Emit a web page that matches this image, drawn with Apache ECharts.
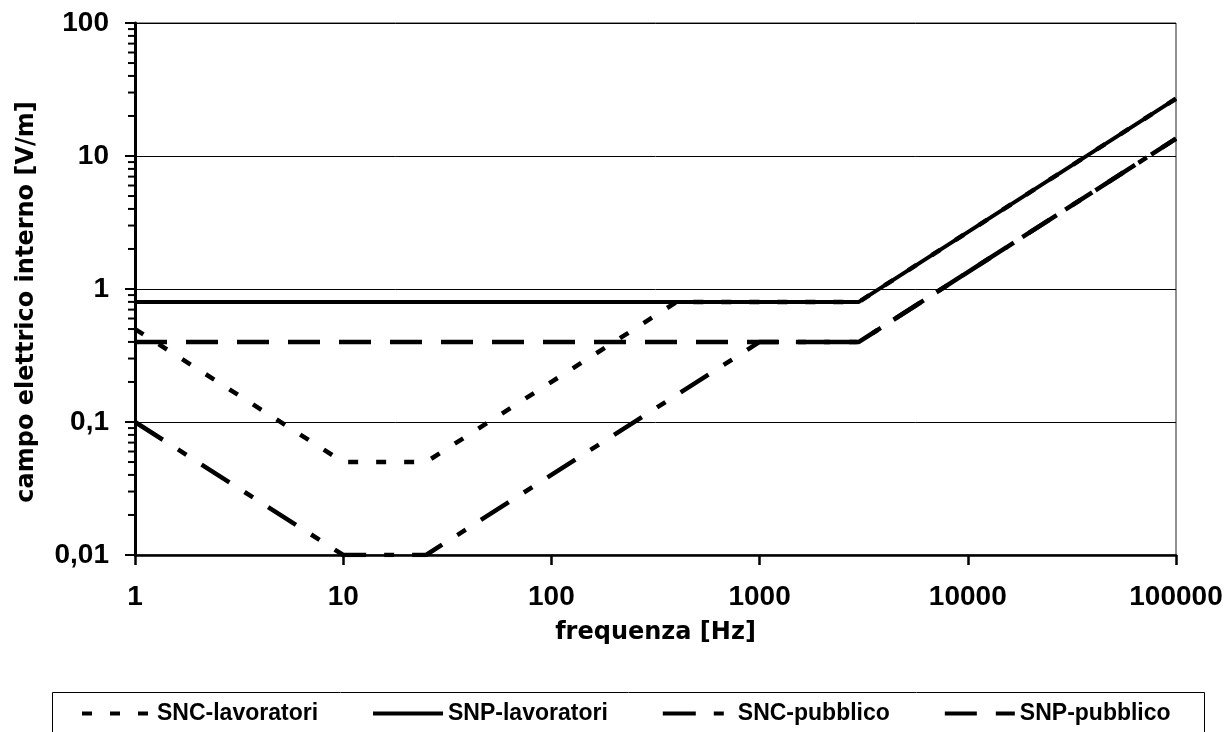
<!DOCTYPE html>
<html>
<head>
<meta charset="utf-8">
<script src="https://cdn.jsdelivr.net/npm/echarts@6/dist/echarts.min.js"></script>
<style>
  html, body { margin: 0; padding: 0; background: #fff; }
  #chart { width: 1228px; height: 732px; }
</style>
</head>
<body>
<div id="chart"></div>
<script>
// data (frequency in Hz, internal electric field in V/m)
var seriesNames = ['SNC-lavoratori', 'SNP-lavoratori', 'SNC-pubblico', 'SNP-pubblico'];

var freqSncLav = [1, 10, 25, 400, 3000, 100000];
var valSncLav  = [0.5, 0.05, 0.05, 0.8, 0.8, 27];

var freqSnpLav = [1, 3000, 100000];
var valSnpLav  = [0.8, 0.8, 27];

var freqSncPub = [1, 10, 25, 1000, 3000, 100000];
var valSncPub  = [0.1, 0.01, 0.01, 0.4, 0.4, 13.5];

var freqSnpPub = [1, 3000, 100000];
var valSnpPub  = [0.4, 0.4, 13.5];

// minor ticks on the log y axis (2..9 inside each decade)
var minorSteps = [2, 3, 4, 5, 6, 7, 8, 9];
var decades = [0.01, 0.1, 1, 10];

function pairs(xs, ys) {
  return xs.map(function (x, i) { return [x, ys[i]]; });
}

var minorTicks = [];
decades.forEach(function (d) {
  minorSteps.forEach(function (s) { minorTicks.push([1, +(d * s).toPrecision(3)]); });
});

var myChart = echarts.init(document.getElementById('chart'));

var labelFont = 'Arial, "Liberation Sans", sans-serif';
var titleFont = '"DejaVu Sans", Arial, sans-serif';

var option = {
  animation: false,
  backgroundColor: '#fff',
  grid: {
    left: 135,
    right: 52,
    top: 23,
    bottom: 177,
    show: true,
    borderColor: '#222',
    borderWidth: 1,
    containLabel: false,
    outerBoundsMode: 'none'
  },
  legend: {
    data: seriesNames,
    left: 80,
    top: 702,
    padding: 0,
    itemWidth: 70,
    itemHeight: 14,
    itemGap: 53,
    // hide the circle ECharts puts in the middle of line icons
    itemStyle: { color: 'rgba(0,0,0,0)', borderColor: 'rgba(0,0,0,0)', borderWidth: 0 },
    lineStyle: { width: 4 },
    textStyle: { fontFamily: labelFont, fontWeight: 'bold', fontSize: 23, color: '#000' }
  },
  graphic: [
    {
      type: 'rect',
      left: 50,
      top: 690,
      shape: { width: 1152, height: 60 },
      style: { fill: 'none', stroke: '#000', lineWidth: 1 },
      z: -1
    }
  ],
  xAxis: {
    type: 'log',
    logBase: 10,
    min: 1,
    max: 100000,
    name: 'frequenza [Hz]',
    nameLocation: 'middle',
    nameGap: 66,
    nameTextStyle: { fontFamily: titleFont, fontWeight: 'bold', fontSize: 24, color: '#000' },
    axisLine: { lineStyle: { color: '#000', width: 2.5 } },
    axisTick: { show: true, inside: false, length: 10, lineStyle: { color: '#000', width: 2.5 } },
    axisLabel: {
      margin: 28,
      fontFamily: labelFont,
      fontWeight: 'bold',
      fontSize: 28,
      color: '#000',
      showMaxLabel: true,
      showMinLabel: true,
      formatter: function (v) { return String(v); }
    },
    splitLine: { show: false },
    minorTick: { show: false }
  },
  yAxis: {
    type: 'log',
    logBase: 10,
    min: 0.01,
    max: 100,
    name: 'campo elettrico interno [V/m]',
    nameLocation: 'middle',
    nameGap: 96,
    nameTextStyle: {
      fontFamily: titleFont, fontWeight: 'bold', fontSize: 24, color: '#000',
      padding: [0, 26, 0, 0]
    },
    axisLine: { lineStyle: { color: '#000', width: 3 } },
    axisTick: { show: true, inside: false, length: 10, lineStyle: { color: '#000', width: 2 } },
    axisLabel: {
      margin: 26,
      fontFamily: labelFont,
      fontWeight: 'bold',
      fontSize: 28,
      color: '#000',
      formatter: function (v) { return String(v).replace('.', ','); }
    },
    splitLine: { show: true, lineStyle: { color: '#000', width: 1 } }
  },
  series: [
    {
      name: 'SNC-lavoratori',
      type: 'line',
      symbol: 'none',
      data: pairs(freqSncLav, valSncLav),
      lineStyle: { color: '#000', width: 4.5, type: [10, 18] },
      itemStyle: { color: '#000' },
      z: 3
    },
    {
      name: 'SNP-lavoratori',
      type: 'line',
      symbol: 'none',
      data: pairs(freqSnpLav, valSnpLav),
      lineStyle: { color: '#000', width: 4, type: 'solid' },
      itemStyle: { color: '#000' },
      z: 2
    },
    {
      name: 'SNC-pubblico',
      type: 'line',
      symbol: 'none',
      data: pairs(freqSncPub, valSncPub),
      lineStyle: { color: '#000', width: 4.5, type: [33, 18, 10, 18] },
      itemStyle: { color: '#000' },
      z: 2
    },
    {
      name: 'SNP-pubblico',
      type: 'line',
      symbol: 'none',
      data: pairs(freqSnpPub, valSnpPub),
      lineStyle: { color: '#000', width: 4.5, type: [32, 19] },
      itemStyle: { color: '#000' },
      z: 2
    },
    {
      // minor ticks drawn left of the y axis
      name: 'minorTicks',
      type: 'custom',
      silent: true,
      clip: false,
      data: minorTicks,
      renderItem: function (params, api) {
        var p = api.coord([api.value(0), api.value(1)]);
        return {
          type: 'line',
          shape: { x1: p[0] - 7, y1: p[1], x2: p[0], y2: p[1] },
          style: { stroke: '#000', lineWidth: 2 }
        };
      },
      z: 5
    }
  ]
};

myChart.setOption(option);
</script>
</body>
</html>
